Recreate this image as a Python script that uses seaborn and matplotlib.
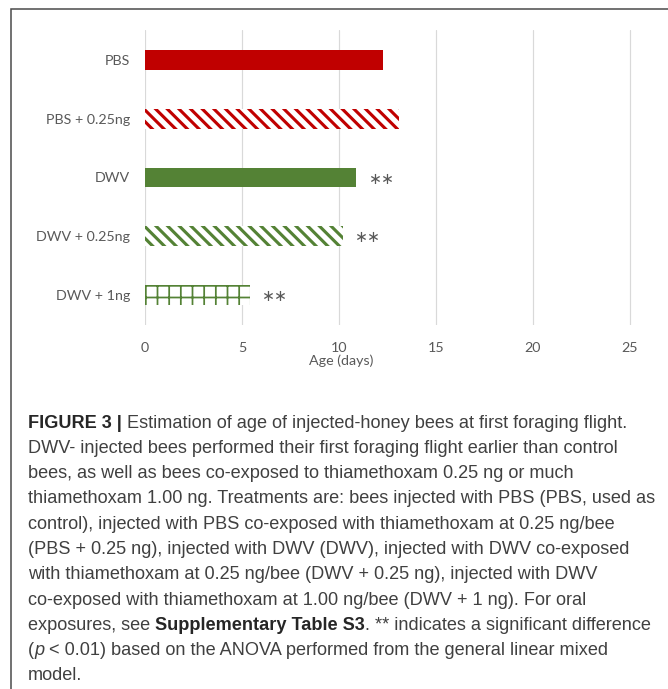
import matplotlib
matplotlib.use('Agg')
import matplotlib.pyplot as plt
import matplotlib.patches as mpatches
import pandas as pd
import seaborn as sb

# Figure is laid out in pixels; 70 dpi also sets the hatch spacing (~12 px)
DPI = 70
W, H = 668, 689

treatments = ['PBS', 'PBS + 0.25ng', 'DWV', 'DWV + 0.25ng', 'DWV + 1ng']
age_days = [12.3, 13.1, 10.9, 10.2, 5.4]
significance = ['', '', '**', '**', '**']
x_ticks = [0, 5, 10, 15, 20, 25]

RED = '#C00000'
GREEN = '#548235'
GREY = '#595959'

# Treatment : face colour, hatch colour, hatch
STYLES = {
  'PBS'          : [RED, RED, ''],
  'PBS + 0.25ng' : ['white', RED, '\\\\'],
  'DWV'          : [GREEN, GREEN, ''],
  'DWV + 0.25ng' : ['white', GREEN, '\\\\'],
  'DWV + 1ng'    : ['white', GREEN, '+'],
}

caption = [
  [('FIGURE 3 |', 'bold'), (' ', None), ('Estimation of age of injected-honey bees at first foraging flight.', 'normal')],
  [('DWV- injected bees performed their first foraging flight earlier than control', 'normal')],
  [('bees, as well as bees co-exposed to thiamethoxam 0.25 ng or much', 'normal')],
  [('thiamethoxam 1.00 ng. Treatments are: bees injected with PBS (PBS, used as', 'normal')],
  [('control), injected with PBS co-exposed with thiamethoxam at 0.25 ng/bee', 'normal')],
  [('(PBS + 0.25 ng), injected with DWV (DWV), injected with DWV co-exposed', 'normal')],
  [('with thiamethoxam at 0.25 ng/bee (DWV + 0.25 ng), injected with DWV', 'normal')],
  [('co-exposed with thiamethoxam at 1.00 ng/bee (DWV + 1 ng). For oral', 'normal')],
  [('exposures, see', 'normal'), (' ', None), ('Supplementary Table S3', 'bold'),
   ('. ** indicates a significant difference', 'normal')],
  [('(', 'normal'), ('p', 'italic'), (' ', None), ('< 0.01) based on the ANOVA performed from the general linear mixed', 'normal')],
  [('model.', 'normal')],
]

sb.set_style('white')
plt.rcParams['font.family'] = ['Lato', 'DejaVu Sans']
plt.rcParams['hatch.linewidth'] = 3.2

figure = plt.figure(figsize=(W / DPI, H / DPI), dpi=DPI)
axis = figure.add_axes([145 / W, 1 - 325 / H, 504 / W, 295 / H])

data = pd.DataFrame({'treatment': treatments, 'age': age_days})
sb.barplot(data=data, x='age', y='treatment', hue='treatment', orient='h',
           palette=[STYLES[t][0] for t in treatments], width=0.34, legend=False, ax=axis)

# Apply the hatch patterns
for bar, name in zip(axis.patches, treatments):
  face, edge, hatch = STYLES[name]
  bar.set_facecolor(face)
  bar.set_edgecolor(edge)
  bar.set_linewidth(0)
  bar.set_hatch(hatch)
  if hatch == '+' and hasattr(bar, 'set_hatch_linewidth'):
    bar.set_hatch_linewidth(1.8)

# Significance markers (drawn with the centred asterisk glyph)
for i, (name, value, mark) in enumerate(zip(treatments, age_days, significance)):
  if mark:
    axis.annotate(mark.replace('*', '\u2217'), (value, i), xytext=(12, 0), textcoords='offset points',
                  ha='left', va='center_baseline', fontsize=16, color=GREY, family='DejaVu Sans')

axis.set_xlim(0, 26)
axis.set_ylim(4.51, -0.51)
axis.set_xticks(x_ticks)
axis.grid(axis='x', color='#D9D9D9', linewidth=1.2)
axis.set_axisbelow(True)
sb.despine(ax=axis, top=True, right=True, left=True, bottom=True)
axis.tick_params(axis='both', length=0, labelsize=14.6, labelcolor=GREY)
axis.tick_params(axis='y', pad=15.5)
axis.tick_params(axis='x', pad=17)
axis.set_ylabel('')
axis.set_xlabel('Age (days)', fontsize=14.6, color=GREY, va='center')
axis.xaxis.set_label_coords((341 - 145) / 504, -(361 - 325) / 295)

# Frame around the figure panel
figure.add_artist(mpatches.Rectangle((10.5 / W, -0.1), 1.2, 1.1 - 9.5 / H, transform=figure.transFigure,
                                     fill=False, edgecolor='#4d4d4d', linewidth=1.6))

# Caption, written run by run so bold and italic parts sit inline
renderer = figure.canvas.get_renderer()
CAPTION_SIZE = 18.6
probe = figure.text(0, 0, 'x x', fontsize=CAPTION_SIZE, family='Liberation Sans')
probe2 = figure.text(0, 0, 'xx', fontsize=CAPTION_SIZE, family='Liberation Sans')
space = probe.get_window_extent(renderer).width - probe2.get_window_extent(renderer).width
probe.remove()
probe2.remove()

for row, runs in enumerate(caption):
  x = 28
  y = H - (421 + row * 25.3)
  for text, style in runs:
    if style is None:
      x += space
      continue
    item = figure.text(x / W, y / H, text, fontsize=CAPTION_SIZE, family='Liberation Sans',
                       color='#262626' if style == 'bold' else '#404040',
                       fontweight='bold' if style == 'bold' else 'normal',
                       fontstyle='italic' if style == 'italic' else 'normal', va='center_baseline')
    x += item.get_window_extent(renderer).width

plt.savefig('out.png', dpi=DPI)
plt.close()
